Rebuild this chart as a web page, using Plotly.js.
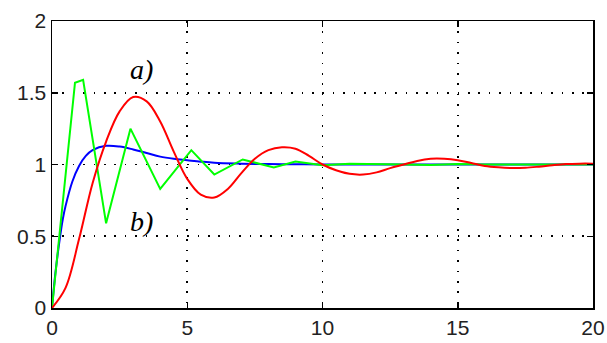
<!DOCTYPE html>
<html>
<head>
<meta charset="utf-8">
<script src="https://cdn.plot.ly/plotly-3.0.1.min.js"></script>
<style>html,body{margin:0;padding:0;background:#fff;}#chart{width:607px;height:343px;}</style>
</head>
<body>
<div id="chart"></div>
<script>
// Curve a) (red)
const redT = [0,0.5,1,1.5,2,2.5,3,3.5,4,4.5,5,5.5,6,6.5,7,7.5,8,8.5,9,9.5,10,10.5,11,11.5,12,12.5,13,13.5,14,14.5,15,15.5,16,16.5,17,17.5,18,18.5,19,19.5,20];
const redY = [0,0.14,0.48,0.87,1.16,1.37,1.47,1.44,1.3,1.09,0.9,0.79,0.77,0.83,0.94,1.04,1.1,1.12,1.11,1.06,1.0,0.96,0.935,0.93,0.945,0.975,1.0,1.025,1.04,1.04,1.03,1.01,0.99,0.98,0.975,0.977,0.985,0.995,1.003,1.006,1.006];
// Blue curve
const blueT = [0,0.1,0.2,0.3,0.4,0.5,0.75,1,1.25,1.5,2,2.5,3,3.5,4,4.5,5,5.5,6,7,8,9,10,12,14,16,18,20];
const blueY = [0,0.2,0.36,0.5,0.62,0.71,0.88,0.99,1.06,1.1,1.13,1.125,1.105,1.08,1.055,1.04,1.03,1.02,1.012,1.006,1.003,1.002,1.0,1.0,1.0,1.0,1.0,1.0];
// Curve b) (green)
const greenT = [0,0.85,1.15,2.0,2.9,4.0,5.15,6.0,7.05,8.2,9.0,10,11,12,13,14,15,16,17,18,19,20];
const greenY = [0,1.57,1.59,0.59,1.25,0.83,1.1,0.93,1.035,0.98,1.02,0.995,1.005,1.0,1.0,0.997,1.003,1.0,0.998,1.0,1.0,1.0];
const xTicks = [0,5,10,15,20];
const yTicks = [0,0.5,1,1.5,2];
const yTickText = ['0','0.5','1','1.5','2'];
const labels = ['a)','b)'];
const labelX = [3.3,3.3];
const labelY = [1.66,0.6];

const traces = [
  {x: blueT, y: blueY, mode:'lines', line:{color:'#0000ff', width:2, shape:'spline'}, hoverinfo:'skip'},
  {x: greenT, y: greenY, mode:'lines', line:{color:'#00ff00', width:2}, hoverinfo:'skip'},
  {x: redT, y: redY, mode:'lines', line:{color:'#ff0000', width:2, shape:'spline'}, hoverinfo:'skip'}
];
const axisCommon = {
  showline:true, linecolor:'#000', linewidth:1.5, mirror:'ticks',
  ticks:'inside', ticklen:6, tickcolor:'#000', tickwidth:1.5,
  showgrid:true, gridcolor:'#000', gridwidth:1.6, griddash:'1.6px,8.8px',
  zeroline:false, tickfont:{family:'Liberation Sans, Arial, sans-serif', size:21, color:'#222'}
};
const layout = {
  width:607, height:343,
  margin:{l:52, r:14, t:21, b:35},
  paper_bgcolor:'#fff', plot_bgcolor:'#fff',
  showlegend:false,
  xaxis: Object.assign({}, axisCommon, {range:[0,20], tickvals:xTicks, ticktext:xTicks.map(String)}),
  yaxis: Object.assign({}, axisCommon, {range:[0,2], tickvals:yTicks, ticktext:yTickText}),
  annotations: labels.map((t,i)=>({x:labelX[i], y:labelY[i], xref:'x', yref:'y', text:t, showarrow:false,
    font:{family:'Liberation Serif, Times New Roman, serif', size:28, color:'#000', style:'italic'}}))
};
Plotly.newPlot('chart', traces, layout, {staticPlot:true, displayModeBar:false});
</script>
</body>
</html>
